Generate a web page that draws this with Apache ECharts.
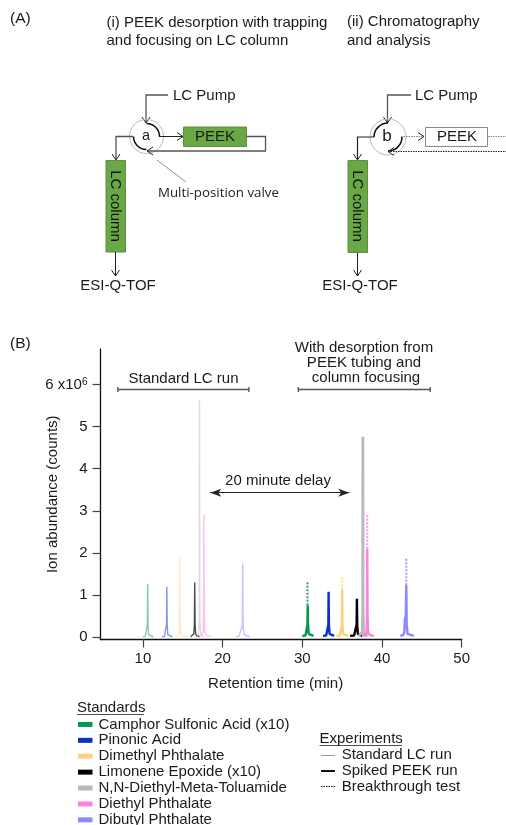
<!DOCTYPE html>
<html><head><meta charset="utf-8">
<style>html,body{margin:0;padding:0;background:#fff}#c{width:506px;height:825px}</style>
<script src="https://cdn.jsdelivr.net/npm/echarts@6/dist/echarts.min.js"></script>
</head><body><div id="c"></div>
<script>
const compounds = ['Camphor Sulfonic Acid (x10)','Pinonic Acid','Dimethyl Phthalate','Limonene Epoxide (x10)','N,N-Diethyl-Meta-Toluamide','Diethyl Phthalate','Dibutyl Phthalate'];
const colors = ['#00994f','#0a32c8','#ffd17f','#000000','#b9b9b9','#ff80e0','#8a8aff'];
const yTicks = [0,1,2,3,4,5,6];
const xTicks = [10,20,30,40,50];

const stdCamphor = [[10,0.01],[10.3,0.02],[10.5,0.06],[10.56,0.3],[10.6,1.27],[10.65,0.3],[10.72,0.06],[10.95,0.02],[11.3,0.01]];
const stdPinonic = [[12.4,0.01],[12.7,0.02],[12.9,0.06],[12.96,0.3],[13.0,1.2],[13.05,0.3],[13.12,0.06],[13.35,0.02],[13.7,0.01]];
const stdDimethyl = [[14.2,0.01],[14.45,0.03],[14.55,0.08],[14.59,0.3],[14.62,1.87],[14.67,0.3],[14.75,0.08],[15,0.03],[15.6,0.01]];
const stdLimonene = [[16,0.01],[16.25,0.03],[16.38,0.08],[16.46,0.3],[16.5,1.3],[16.55,0.3],[16.62,0.08],[16.8,0.03],[17.1,0.01]];
const stdDeet = [[16.6,0.01],[16.9,0.04],[17.03,0.15],[17.07,0.5],[17.1,5.64],[17.14,0.5],[17.22,0.15],[17.35,0.04],[17.7,0.01]];
const stdDiethyl = [[17,0.01],[17.35,0.05],[17.55,0.12],[17.61,0.5],[17.65,2.92],[17.7,0.5],[17.78,0.12],[17.95,0.05],[18.6,0.01]];
const stdDibutyl = [[21.7,0.01],[22.1,0.03],[22.25,0.15],[22.38,0.22],[22.47,0.3],[22.52,1.75],[22.57,0.22],[22.7,0.06],[22.95,0.03],[23.4,0.01]];

const peekCamphor = [[30,0.03],[30.4,0.04],[30.58,0.08],[30.65,0.3],[30.68,0.76],[30.72,0.3],[30.8,0.08],[31,0.04],[31.4,0.03]];
const peekPinonic = [[32.6,0.03],[33,0.04],[33.2,0.08],[33.27,0.3],[33.3,1.08],[33.34,0.3],[33.42,0.08],[33.65,0.04],[34,0.03]];
const peekDimethyl = [[34.3,0.03],[34.7,0.04],[34.92,0.08],[34.98,0.3],[35,1.12],[35.04,0.3],[35.12,0.08],[35.35,0.04],[35.8,0.03]];
const peekLimonene = [[36,0.03],[36.5,0.04],[36.74,0.08],[36.82,0.3],[36.85,0.91],[36.89,0.3],[36.97,0.08],[37.2,0.04],[37.5,0.03]];
const peekDeet = [[37.1,0.03],[37.35,0.05],[37.52,0.12],[37.58,0.6],[37.6,4.76],[37.63,0.6],[37.7,0.12],[37.85,0.05],[38.2,0.03]];
const peekDiethyl = [[37.5,0.03],[37.9,0.05],[38.06,0.1],[38.12,0.5],[38.15,2.1],[38.19,0.5],[38.26,0.1],[38.5,0.05],[39,0.03]];
const peekDibutyl = [[42.3,0.03],[42.65,0.05],[42.8,0.12],[42.88,0.45],[42.98,0.5],[43.05,1.235],[43.1,0.3],[43.2,0.08],[43.45,0.05],[44,0.03]];

const btCamphor = [[30.65,0.76],[30.65,1.31]];
const btDimethyl = [[35.0,1.12],[35.0,1.45]];
const btDiethyl = [[38.15,2.1],[38.15,2.92]];
const btDibutyl = [[43.05,1.235],[43.05,1.87]];

const rangeStd = [[6.86,5.82],[6.86,5.94],[6.86,5.88],[23.3,5.88],[23.3,5.82],[23.3,5.94]];
const rangePeek = [[29.5,5.82],[29.5,5.94],[29.5,5.88],[46.05,5.88],[46.05,5.82],[46.05,5.94]];
const delayArrow = [[18.45,3.43],[35.9,3.43]];

const peekRuns = [peekCamphor,peekPinonic,peekDimethyl,peekLimonene,peekDeet,peekDiethyl,peekDibutyl];
const stdRuns = [stdCamphor,stdPinonic,stdDimethyl,stdLimonene,stdDeet,stdDiethyl,stdDibutyl];
const btRuns = [[0,btCamphor],[2,btDimethyl],[5,btDiethyl],[6,btDibutyl]];

const FONT = '"Liberation Sans", Arial, sans-serif';
const series = [];
peekRuns.forEach((d,i)=>series.push({name:compounds[i],type:'line',data:d,color:colors[i],symbol:'none',z:5,animation:false,silent:true,
  lineStyle:{color:colors[i],width:i===4?2.8:2.4}}));
stdRuns.forEach((d,i)=>series.push({name:compounds[i],type:'line',data:d,color:colors[i],symbol:'none',z:3,animation:false,silent:true,
  lineStyle:{color:colors[i],width:1.4,opacity:i===3?0.7:0.5}}));
btRuns.forEach(([i,d])=>series.push({name:compounds[i],type:'line',data:d,color:colors[i],symbol:'none',z:4,animation:false,silent:true,
  lineStyle:{color:colors[i],width:2,type:[2,1.5],opacity:0.85}}));
[rangeStd,rangePeek].forEach(d=>series.push({name:'range',type:'line',data:d,symbol:'none',z:2,animation:false,silent:true,
  lineStyle:{color:'#555',width:1.4}}));
series.push({name:'delay',type:'line',data:[],animation:false,silent:true,markLine:{silent:true,animation:false,symbol:['arrow','arrow'],symbolSize:[6,11],label:{show:false},
  lineStyle:{color:'#222',width:1,type:'solid'},data:[[{coord:delayArrow[0]},{coord:delayArrow[1]}]]}});

const G='#555';
function t(text,x,y,size,o){return Object.assign({type:'text',x,y,silent:true,style:Object.assign({text,font:size+'px '+FONT,fill:'#1a1a1a',textAlign:'left',textVerticalAlign:'middle'},o||{})},{});}
function poly(points,stroke,w,dash){return {type:'polyline',silent:true,shape:{points},style:{stroke:stroke||G,lineWidth:w||1.3,fill:null,lineDash:dash||null}};}
function down(x,y){return poly([[x-4,y-6],[x,y],[x+4,y-6]],'#222',1);}
function right(x,y){return poly([[x-6,y-4],[x,y],[x-6,y+4]],'#222',1);}
function left(x,y,c){return poly([[x+6,y-4],[x,y],[x+6,y+4]],c||'#222',1);}
function rect(x,y,w,h,fill,stroke){return {type:'rect',silent:true,shape:{x,y,width:w,height:h},style:{fill,stroke,lineWidth:1}};}
function circ(x,y,r){return {type:'circle',silent:true,shape:{cx:x,cy:y,r},style:{fill:null,stroke:'#bbb',lineWidth:1}};}
function arc(x,y,r,a,b){return {type:'arc',silent:true,shape:{cx:x,cy:y,r,startAngle:a,endAngle:b,clockwise:true},style:{stroke:'#111',lineWidth:1.5,fill:null}};}
const P=Math.PI, GREEN='#69a845', GS='#5c9040', S=15;
const graphics=[
 t('(A)',10,19,15.5), t('(B)',10,344,15.5),
 t('(i) PEEK desorption with trapping',106.5,22.5,S), t('and focusing on LC column',106.5,41,S),
 t('(ii) Chromatography',347,22,S), t('and analysis',347,41,S),
 // valve a
 t('LC Pump',173,95.5,S),
 poly([[168,95],[146,95],[146,122]]), down(146,123),
 circ(146.5,136.5,17), arc(146.5,136.5,13,-P/2,0), arc(146.5,136.5,13,P/2,P),
 t('a',146,136,14.4,{textAlign:'center'}),
 poly([[159,136.5],[183,136.5]],'#222',1), right(183,136.5),
 rect(183.5,127,63,19.5,GREEN,GS), t('PEEK',215,136.5,S,{textAlign:'center'}),
 poly([[246.5,136.5],[265.5,136.5],[265.5,151],[147,151]]), left(147,151),
 poly([[133,136.5],[116,136.5],[116,159]]), down(116,160),
 rect(106,160.5,19.5,91.5,GREEN,GS),
 {type:'text',silent:true,x:115.5,y:206,rotation:-P/2,style:{text:'LC column',font:S+'px '+FONT,fill:'#111',textAlign:'center',textVerticalAlign:'middle'}},
 poly([[115.5,252],[115.5,276]],'#222',1), down(115.5,276),
 t('ESI-Q-TOF',118,285.5,S,{textAlign:'center'}),
 poly([[157,160],[186,182]],'#777',0.8),
 {type:'text',silent:true,x:158,y:193.5,style:{text:'Multi-position valve',font:'13.3px "Open Sans", sans-serif',fill:'#222',textAlign:'left',textVerticalAlign:'middle'}},
 // valve b
 t('LC Pump',415,95.5,S),
 poly([[411,95],[387.5,95],[387.5,122]]), down(387.5,123),
 circ(388,137,18), arc(388,137,14,P,-P/2), arc(388,137,14,0,P/2),
 t('b',387,136.5,17,{textAlign:'center'}),
 poly([[401,136.5],[424,136.5]],'#888',1,[1.5,1]), right(424,136.5),
 rect(425.5,127.5,62,19,'#fff','#888'), t('PEEK',457,136.5,S,{textAlign:'center'}),
 poly([[488,136.5],[506,136.5]],'#888',1,[1.5,1]),
 poly([[388,151.5],[506,151.5]],'#222',1,[1.5,1]), left(388,151.5),
 poly([[374,137],[357.5,137],[357.5,159]],'#222',1.2), down(357.5,160),
 rect(348,160.5,19.5,92,GREEN,GS),
 {type:'text',silent:true,x:357.5,y:206,rotation:-P/2,style:{text:'LC column',font:S+'px '+FONT,fill:'#111',textAlign:'center',textVerticalAlign:'middle'}},
 poly([[357.5,252.5],[357.5,276]],'#222',1), down(357.5,276),
 t('ESI-Q-TOF',360,286,S,{textAlign:'center'}),
 // annotations in the plot
 t('Standard LC run',183.5,379,S,{textAlign:'center'}),
 t('With desorption from',364,348,S,{textAlign:'center'}),
 t('PEEK tubing and',364,363,S,{textAlign:'center'}),
 t('column focusing',366,378,S,{textAlign:'center'}),
 t('20 minute delay',278,480.5,S,{textAlign:'center'}),
 // legend headings and experiments
 t('Standards',77,708,S), poly([[77,714.5],[144,714.5]],'#222',0.8),
 t('Experiments',319.5,739,S), poly([[319.5,745.5],[402,745.5]],'#222',0.8),
 poly([[321,755.5],[335,755.5]],'#999',1), t('Standard LC run',341.7,755,S),
 poly([[321,771],[335,771]],'#111',2), t('Spiked PEEK run',341.7,771,S),
 poly([[321,786.5],[335,786.5]],'#111',1,[1.5,1]), t('Breakthrough test',341.7,786.5,S)
];

const chart=echarts.init(document.getElementById('c'),null,{renderer:'canvas'});
chart.setOption({
 animation:false,backgroundColor:'#fff',
 textStyle:{fontFamily:FONT},
 grid:{left:100.5,right:44.3,top:349,bottom:185.5},
 legend:{show:true,orient:'vertical',left:78,top:716.5,height:125,padding:0,itemGap:0,itemWidth:14.5,itemHeight:5,icon:'rect',selectedMode:false,
   data:compounds,textStyle:{fontFamily:FONT,fontSize:15,color:'#1a1a1a',lineHeight:15.9,padding:[0,0,0,1]}},
 xAxis:{type:'value',min:4.68,max:50,
   name:'Retention time (min)',nameLocation:'middle',nameGap:37,nameMoveOverlap:false,nameTextStyle:{fontFamily:FONT,fontSize:15,color:'#1a1a1a',padding:[0,11,0,0]},
   splitLine:{show:false},
   axisLine:{onZero:false,lineStyle:{color:'#111',width:1.3}},
   axisTick:{show:true,inside:false,length:8,customValues:xTicks,lineStyle:{color:'#444',width:1.2}},
   axisLabel:{customValues:xTicks,fontFamily:FONT,fontSize:15,color:'#1a1a1a',margin:12,showMinLabel:true,showMaxLabel:true}},
 yAxis:{type:'value',min:-0.055,max:6.84,
   name:'Ion abundance (counts)',nameLocation:'middle',nameGap:40,nameRotate:90,nameMoveOverlap:false,nameTextStyle:{fontFamily:FONT,fontSize:15,color:'#1a1a1a'},
   splitLine:{show:false},
   axisLine:{show:true,onZero:false,lineStyle:{color:'#111',width:1.3}},
   axisTick:{show:true,inside:false,length:8,customValues:yTicks,lineStyle:{color:'#444',width:1.2}},
   axisLabel:{customValues:yTicks,fontFamily:FONT,fontSize:15,color:'#1a1a1a',margin:13,
     formatter:v=>v===6?'6 x10{s|6}':String(v),
     rich:{s:{fontSize:10,verticalAlign:'top',lineHeight:10,padding:[0,0,6,0],fontFamily:FONT,color:'#1a1a1a'}}}},
 series,
 graphic:{elements:graphics}
});
</script></body></html>
